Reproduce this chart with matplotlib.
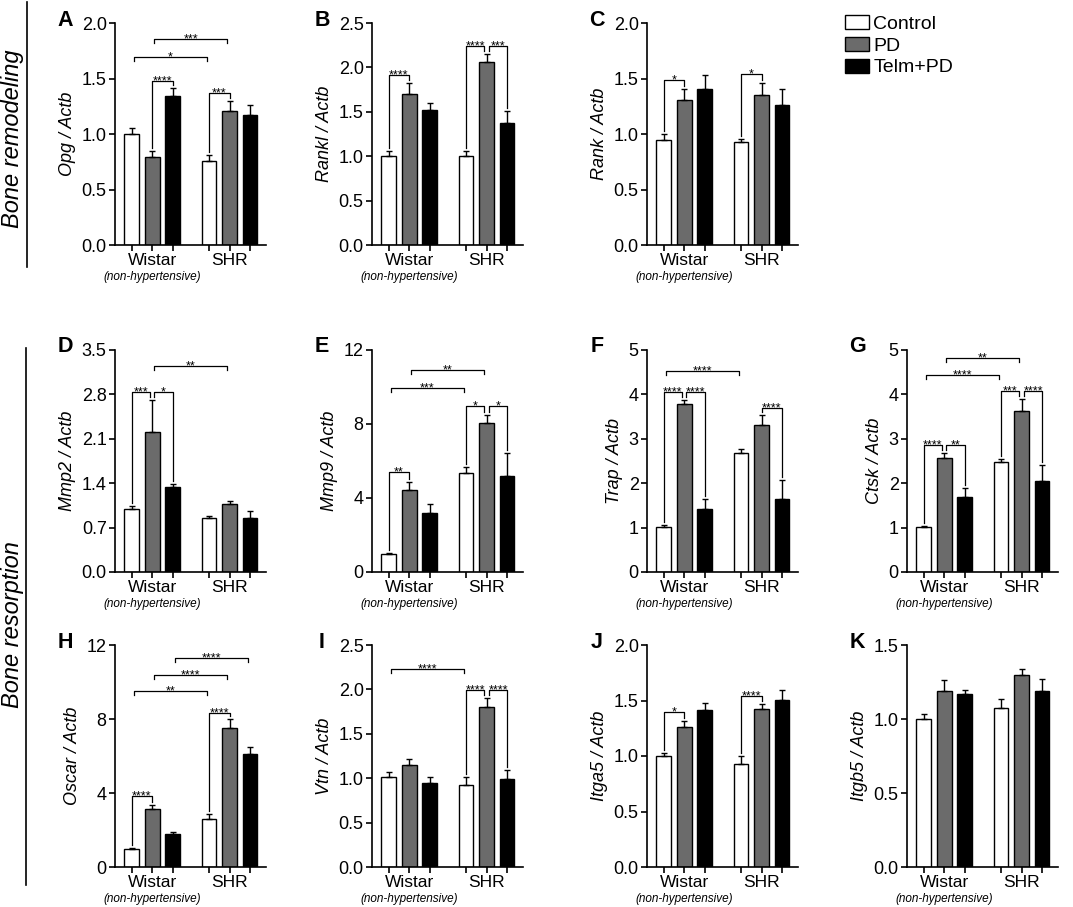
import numpy as np
import matplotlib
matplotlib.use('Agg')
import matplotlib.pyplot as plt
from matplotlib.patches import Patch
from matplotlib.lines import Line2D

plt.rcParams['font.family'] = ['Liberation Sans', 'DejaVu Sans']

groups = ['Wistar', 'SHR']
treatments = ['Control', 'PD', 'Telm+PD']
bar_colors = ['white', '#6b6b6b', 'black']

# order of values: Wistar Control, PD, Telm+PD, SHR Control, PD, Telm+PD
opg_mean = [1.00, 0.795, 1.343, 0.759, 1.205, 1.172]
opg_err = [0.05, 0.05, 0.072, 0.048, 0.095, 0.093]
rankl_mean = [1.005, 1.70, 1.518, 1.005, 2.058, 1.376]
rankl_err = [0.055, 0.125, 0.082, 0.055, 0.097, 0.134]
rank_mean = [0.944, 1.304, 1.406, 0.927, 1.352, 1.259]
rank_err = [0.06, 0.099, 0.126, 0.03, 0.108, 0.147]
mmp2_mean = [1.0, 2.205, 1.336, 0.854, 1.074, 0.854]
mmp2_err = [0.048, 0.505, 0.057, 0.031, 0.052, 0.11]
mmp9_mean = [0.99, 4.455, 3.215, 5.335, 8.03, 5.17]
mmp9_err = [0.05, 0.431, 0.465, 0.325, 0.43, 1.28]
trap_mean = [1.003, 3.78, 1.43, 2.672, 3.316, 1.647]
trap_err = [0.052, 0.09, 0.224, 0.105, 0.217, 0.426]
ctsk_mean = [1.003, 2.575, 1.684, 2.477, 3.623, 2.043]
ctsk_err = [0.027, 0.097, 0.21, 0.075, 0.277, 0.375]
oscar_mean = [0.99, 3.126, 1.78, 2.62, 7.53, 6.09]
oscar_err = [0.05, 0.214, 0.12, 0.27, 0.446, 0.395]
vtn_mean = [1.01, 1.149, 0.947, 0.921, 1.804, 0.996]
vtn_err = [0.064, 0.064, 0.067, 0.093, 0.101, 0.093]
itga5_mean = [0.997, 1.257, 1.413, 0.931, 1.422, 1.506]
itga5_err = [0.027, 0.06, 0.063, 0.069, 0.045, 0.093]
itgb5_mean = [1.0, 1.188, 1.172, 1.076, 1.296, 1.186]
itgb5_err = [0.037, 0.074, 0.023, 0.06, 0.04, 0.085]

# significance brackets: (bar a, bar b, height, stars)
opg_sig = [(0, 3, 1.69, '*'), (1, 4, 1.86, '***'), (1, 2, 1.48, '****'), (3, 4, 1.37, '***')]
rankl_sig = [(0, 1, 1.92, '****'), (3, 4, 2.24, '****'), (4, 5, 2.24, '***')]
rank_sig = [(0, 1, 1.484, '*'), (3, 4, 1.538, '*')]
mmp2_sig = [(0, 1, 2.834, '***'), (1, 2, 2.834, '*'), (1, 4, 3.253, '**')]
mmp9_sig = [(0, 1, 5.39, '**'), (3, 4, 8.95, '*'), (4, 5, 8.95, '*'), (0, 3, 9.95, '***'), (1, 4, 10.92, '**')]
trap_sig = [(0, 1, 4.064, '****'), (1, 2, 4.064, '****'), (0, 3, 4.536, '****'), (4, 5, 3.698, '****')]
ctsk_sig = [(0, 1, 2.85, '****'), (1, 2, 2.85, '**'), (0, 3, 4.44, '****'), (1, 4, 4.81, '**'),
            (3, 4, 4.07, '***'), (4, 5, 4.07, '****')]
oscar_sig = [(0, 1, 3.86, '****'), (3, 4, 8.32, '****'), (0, 3, 9.54, '**'), (1, 4, 10.365, '****'),
             (2, 5, 11.32, '****')]
vtn_sig = [(0, 3, 2.23, '****'), (3, 4, 1.99, '****'), (4, 5, 1.99, '****')]
itga5_sig = [(0, 1, 1.395, '*'), (3, 4, 1.545, '****')]
itgb5_sig = []

# letter, gene, y ticks, decimals, means, errors, brackets, row, col
panels = [
    ('A', 'Opg', [0, 0.5, 1.0, 1.5, 2.0], 1, opg_mean, opg_err, opg_sig, 0, 0),
    ('B', 'Rankl', [0, 0.5, 1.0, 1.5, 2.0, 2.5], 1, rankl_mean, rankl_err, rankl_sig, 0, 1),
    ('C', 'Rank', [0, 0.5, 1.0, 1.5, 2.0], 1, rank_mean, rank_err, rank_sig, 0, 2),
    ('D', 'Mmp2', [0, 0.7, 1.4, 2.1, 2.8, 3.5], 1, mmp2_mean, mmp2_err, mmp2_sig, 1, 0),
    ('E', 'Mmp9', [0, 4, 8, 12], 0, mmp9_mean, mmp9_err, mmp9_sig, 1, 1),
    ('F', 'Trap', [0, 1, 2, 3, 4, 5], 0, trap_mean, trap_err, trap_sig, 1, 2),
    ('G', 'Ctsk', [0, 1, 2, 3, 4, 5], 0, ctsk_mean, ctsk_err, ctsk_sig, 1, 3),
    ('H', 'Oscar', [0, 4, 8, 12], 0, oscar_mean, oscar_err, oscar_sig, 2, 0),
    ('I', 'Vtn', [0, 0.5, 1.0, 1.5, 2.0, 2.5], 1, vtn_mean, vtn_err, vtn_sig, 2, 1),
    ('J', 'Itga5', [0, 0.5, 1.0, 1.5, 2.0], 1, itga5_mean, itga5_err, itga5_sig, 2, 2),
    ('K', 'Itgb5', [0, 0.5, 1.0, 1.5], 1, itgb5_mean, itgb5_err, itgb5_sig, 2, 3),
]

W, H = 1073, 907
fig = plt.figure(figsize=(W / 100, H / 100), dpi=100)

row_tops = [23, 350, 645]
col_lefts = [115, 372, 647, 907]
ax_w, ax_h = 151, 222

offsets = np.array([-0.265, 0, 0.265])
xpos = np.concatenate([0 + offsets, 1 + offsets])
bar_w = 0.19

for letter, gene, yt, dec, means, errs, sig, r, c in panels:
    left = col_lefts[c]
    top = row_tops[r]
    ax = fig.add_axes([left / W, 1 - (top + ax_h) / H, ax_w / W, ax_h / H])
    ymax = yt[-1]
    ax.bar(xpos, means, width=bar_w, color=bar_colors * 2, edgecolor='black', linewidth=1.0,
           yerr=[np.zeros(6), errs], error_kw=dict(ecolor='black', elinewidth=1.0, capsize=2.5, capthick=1.0),
           zorder=2)
    ax.set_xlim(-0.48, 1.47)
    ax.set_ylim(0, ymax)
    ax.spines['top'].set_visible(False)
    ax.spines['right'].set_visible(False)
    ax.spines['left'].set_linewidth(1.2)
    ax.spines['bottom'].set_linewidth(1.2)
    ax.set_yticks(yt)
    ax.set_yticklabels([f'{v:.{dec}f}' for v in yt], fontsize=13)
    ax.set_xticks(xpos)
    ax.set_xticklabels(['', groups[0], '', '', groups[1], ''], fontsize=12.5)
    ax.tick_params(axis='both', width=1.2, length=4, pad=2)
    ax.set_ylabel(f'{gene} / Actb', fontsize=13, style='italic', labelpad=4)
    ax.annotate('(non-hypertensive)', (xpos[1], 0), xycoords=('data', 'axes fraction'),
                xytext=(0, -23), textcoords='offset points', ha='center', va='center',
                fontsize=8.5, style='italic')

    # significance brackets
    px = ymax / ax_h
    tops = np.array(means) + np.array(errs)
    for a, b, y, stars in sig:
        x1, x2 = xpos[a], xpos[b]
        same = (a // 3) == (b // 3)
        for a2, b2, y2, _ in sig:
            if (a2, b2) != (a, b) and abs(y2 - y) < 1e-9:
                if a in (a2, b2):
                    x1 += 0.03
                if b in (a2, b2):
                    x2 -= 0.03
        if same:
            l1 = min(tops[a] + 3 * px, y - 2 * px)
            l2 = min(tops[b] + 3 * px, y - 2 * px)
        else:
            x1 += 0.03
            x2 -= 0.03
            l1 = l2 = y - 4 * px
        ax.plot([x1, x1, x2, x2], [l1, y, y, l2], color='black', lw=0.9, clip_on=False, zorder=3)
        ax.annotate(stars, ((x1 + x2) / 2, y), xytext=(0, -2.5), textcoords='offset points',
                    ha='center', va='baseline', fontsize=9)

    fig.text((left - 50) / W, 1 - (top - 3) / H, letter, fontsize=15.5, fontweight='bold',
             ha='center', va='center')

# legend
handles = [Patch(facecolor=col, edgecolor='black', linewidth=1.0) for col in bar_colors]
fig.legend(handles, treatments, loc='upper left', bbox_to_anchor=(845 / W, 1 - 15 / H),
           frameon=False, fontsize=14, handlelength=1.25, handleheight=0.75,
           handletextpad=0.2, labelspacing=0.2, borderaxespad=0, borderpad=0)

# section labels
fig.text(13 / W, 1 - 139 / H, 'Bone remodeling', rotation=90, ha='center', va='center',
         fontsize=17, style='italic')
fig.add_artist(Line2D([27 / W, 27 / W], [1 - 2 / H, 1 - 267 / H], color='black', lw=1.2))
fig.text(13 / W, 1 - 625 / H, 'Bone resorption', rotation=90, ha='center', va='center',
         fontsize=17, style='italic')
fig.add_artist(Line2D([26 / W, 26 / W], [1 - 348 / H, 1 - 885 / H], color='black', lw=1.2))

fig.savefig('out.png', dpi=100)
